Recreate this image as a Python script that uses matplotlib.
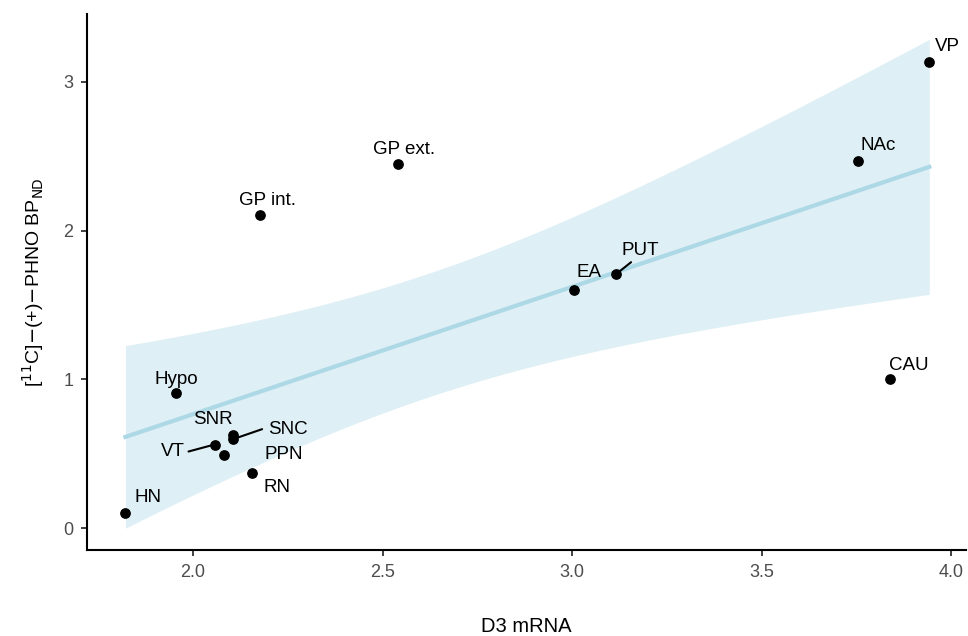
import numpy as np
import matplotlib
matplotlib.use('Agg')
import matplotlib.pyplot as plt

plt.rcParams['font.family'] = ['Liberation Sans', 'DejaVu Sans']

regions = ['HN', 'Hypo', 'VT', 'SNR', 'SNC', 'PPN', 'RN', 'GP int.', 'GP ext.',
           'EA', 'PUT', 'NAc', 'CAU', 'VP']
d3_mrna = [1.822, 1.955, 2.057, 2.105, 2.106, 2.082, 2.157, 2.176, 2.542,
           3.005, 3.116, 3.753, 3.839, 3.942]
phno_bp = [0.105, 0.906, 0.562, 0.624, 0.598, 0.492, 0.371, 2.107, 2.450,
           1.604, 1.707, 2.470, 1.000, 3.134]

# label offsets in pixels (dx, dy)
offsets = {
    'HN': (23, 15), 'Hypo': (0, 14), 'VT': (-42, -7),
    'SNR': (-20, 16), 'SNC': (55, 10), 'PPN': (60, 0),
    'RN': (25, -15), 'GP int.': (8, 14), 'GP ext.': (6, 14),
    'EA': (15, 17), 'PUT': (24, 24), 'NAc': (21, 15),
    'CAU': (19, 14), 'VP': (18, 15),
}
# connector segments: end offset in pixels from the point
segments = {'VT': (-26, -7), 'SNC': (29, 10), 'PUT': (15, 12)}

x = np.array(d3_mrna)
y = np.array(phno_bp)

# linear fit with 95% confidence band
n = len(x)
slope, intercept = np.polyfit(x, y, 1)
resid = y - (slope * x + intercept)
s = np.sqrt(np.sum(resid ** 2) / (n - 2))
t = 2.1788  # t(0.975, df=12)
xs = np.linspace(x.min(), x.max(), 200)
fit = slope * xs + intercept
se = s * np.sqrt(1 / n + (xs - x.mean()) ** 2 / np.sum((x - x.mean()) ** 2))

fig = plt.figure(figsize=(9.68, 6.36), dpi=100)
ax = fig.add_axes([0.09, 0.135, 0.908, 0.843])

ax.fill_between(xs, fit - t * se, fit + t * se, color='#add8e6', alpha=0.4, lw=0)
ax.plot(xs, fit, color='#add8e6', lw=3)
ax.scatter(x, y, s=45, color='black', zorder=3)

for name, xi, yi in zip(regions, x, y):
    dx, dy = offsets[name]
    ax.annotate(name, (xi, yi), xytext=(dx, dy), textcoords='offset pixels',
                ha='center', va='center', fontsize=13.5, zorder=4)
    if name in segments:
        ex, ey = segments[name]
        ax.annotate('', (xi, yi), xytext=(ex, ey), textcoords='offset pixels',
                    arrowprops=dict(arrowstyle='-', color='black', lw=1.5,
                                    shrinkA=0, shrinkB=0), zorder=2)

ax.set_xlim(1.721, 4.039)
ax.set_ylim(-0.148, 3.456)
ax.set_xticks([2.0, 2.5, 3.0, 3.5, 4.0])
ax.set_xticklabels(['2.0', '2.5', '3.0', '3.5', '4.0'])
ax.set_yticks([0, 1, 2, 3])

for side in ['top', 'right']:
    ax.spines[side].set_visible(False)
for side in ['left', 'bottom']:
    ax.spines[side].set_linewidth(1.5)
ax.tick_params(axis='both', labelcolor='#4d4d4d', labelsize=13, width=1.3,
               length=4, color='#333333', pad=6)

ax.set_xlabel('D3 mRNA', fontsize=14.5, labelpad=26)
ax.set_ylabel(r'[$^{11}$C]$-$(+)$-$PHNO BP$_{\mathrm{ND}}$', fontsize=14, labelpad=12)

fig.savefig('out.png', dpi=100)
